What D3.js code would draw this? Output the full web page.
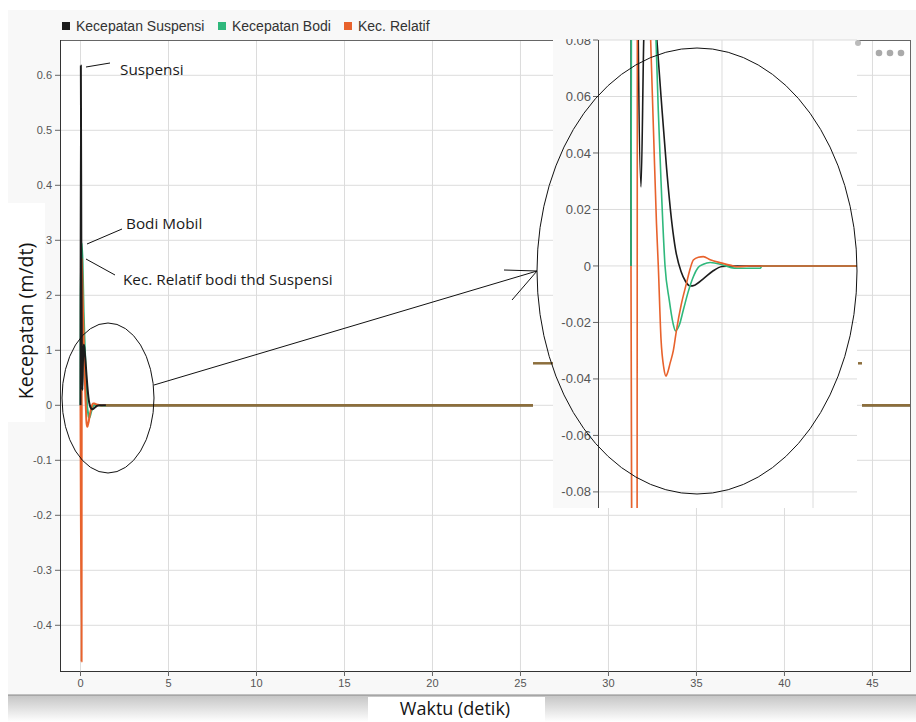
<!DOCTYPE html>
<html><head><meta charset="utf-8">
<script src="https://cdn.jsdelivr.net/npm/d3@7"></script>
<style>body{margin:0;background:#fff}svg{display:block}</style>
</head><body>
<svg id="c" width="916" height="722"></svg>
<script>
// ---------------- data ----------------
const seriesNames  = ["Kecepatan Suspensi", "Kecepatan Bodi", "Kec. Relatif"];
const seriesColors = ["#1c1c1c", "#2fb87c", "#e8622c"];
const settledColor = "#8c6e3c";

const tSuspensi = [0, 0.02, 0.05, 0.08, 0.11, 0.14, 0.18, 0.22, 0.26, 0.28, 0.33, 0.39, 0.45, 0.49, 0.55, 0.60, 0.65, 0.70, 0.80, 0.90, 1.00, 1.10, 47.2];
const vSuspensi = [0, 0.618, 0.25, 0.08, 0.028, 0.08, 0.11, 0.105, 0.09, 0.082, 0.06, 0.035, 0.015, 0.0057, -0.002, -0.0055, -0.0071, -0.0068, -0.0044, -0.0018, -0.0002, 0, 0];

const tBodi = [0, 0.01, 0.07, 0.12, 0.18, 0.24, 0.275, 0.30, 0.33, 0.374, 0.42, 0.46, 0.49, 0.53, 0.575, 0.63, 0.685, 0.74, 0.795, 0.87, 1.0, 1.1, 1.17, 1.42, 1.44, 47.2];
const vBodi = [0, 0.2, 0.295, 0.26, 0.17, 0.11, 0.08, 0.055, 0.03, 0, -0.012, -0.02, -0.023, -0.021, -0.0156, -0.009, -0.0038, -0.0005, 0.0006, 0.0012, 0.0004, -0.0006, -0.0008, -0.0008, 0, 0];

const tRelatif = [0, 0.062, 0.072, 0.12, 0.18, 0.216, 0.25, 0.28, 0.30, 0.33, 0.36, 0.385, 0.40, 0.43, 0.465, 0.50, 0.55, 0.61, 0.65, 0.685, 0.74, 0.795, 0.87, 1.0, 1.1, 1.17, 1.3, 47.2];
const vRelatif = [0, -0.466, 0.267, 0.2, 0.12, 0.08, 0.045, 0.015, 0, -0.026, -0.036, -0.039, -0.038, -0.0344, -0.03, -0.0227, -0.014, -0.0061, -0.001, 0.0021, 0.0031, 0.0033, 0.0022, 0.001, 0.0002, -0.0003, 0, 0];

const xTicks = [0, 5, 10, 15, 20, 25, 30, 35, 40, 45];
const yTicks = [0.6, 0.5, 0.4, 0.3, 0.2, 0.1, 0, -0.1, -0.2, -0.3, -0.4];
const insetYTicks = [0.08, 0.06, 0.04, 0.02, 0, -0.02, -0.04, -0.06, -0.08];
const insetXGrid = [0, 1, 2];

const annotations = ["Suspensi", "Bodi Mobil", "Kec. Relatif bodi thd Suspensi"];
const yTitle = "Kecepatan (m/dt)";
const xTitle = "Waktu (detik)";

// ---------------- setup ----------------
const series = [
  {name: seriesNames[0], color: seriesColors[0], pts: tSuspensi.map((t, i) => [t, vSuspensi[i]])},
  {name: seriesNames[1], color: seriesColors[1], pts: tBodi.map((t, i) => [t, vBodi[i]])},
  {name: seriesNames[2], color: seriesColors[2], pts: tRelatif.map((t, i) => [t, vRelatif[i]])}
];
// time from which all series stay at zero
const tSettle = d3.max(series, s => {
  let k = s.pts.length - 1;
  while (k > 0 && s.pts[k - 1][1] === 0) k--;
  return s.pts[k][0];
});
const tEnd = d3.max(series, s => s.pts[s.pts.length - 1][0]);
const settled = [[tSettle, 0], [tEnd, 0]];

const svg = d3.select("#c");
const defs = svg.append("defs");

const M = {left: 60, right: 911, top: 40, bottom: 671};
const x = d3.scaleLinear().domain([-1.165, 47.19]).range([M.left, M.right]);
const y = d3.scaleLinear().domain([-0.4831, 0.6642]).range([M.bottom, M.top]);

const I = {left: 598, right: 857, top: 40, bottom: 508};
const xi = d3.scaleLinear().domain([-0.3626, 2.4835]).range([I.left, I.right]);
const yi = d3.scaleLinear().domain([-0.0857, 0.08]).range([I.bottom, I.top]);

// card background + shadow
const grad = defs.append("linearGradient").attr("id", "sh").attr("x1", 0).attr("y1", 0).attr("x2", 0).attr("y2", 1);
grad.append("stop").attr("offset", 0).attr("stop-color", "#c4c4c4");
grad.append("stop").attr("offset", 1).attr("stop-color", "#ffffff");
svg.append("rect").attr("x", 8).attr("y", 695).attr("width", 908).attr("height", 27).attr("fill", "url(#sh)");
svg.append("rect").attr("x", 8).attr("y", 10).attr("width", 908).attr("height", 685).attr("fill", "#f8f8f8");
svg.append("line").attr("x1", 8).attr("x2", 916).attr("y1", 695).attr("y2", 695).attr("stroke", "#888");

// main plot
svg.append("rect").attr("x", M.left).attr("y", M.top).attr("width", M.right - M.left).attr("height", M.bottom - M.top).attr("fill", "#fff");
const grid = svg.append("g").attr("stroke", "#dcdcdc").attr("stroke-width", 1);
grid.selectAll(".gx").data(xTicks).join("line").attr("x1", d => x(d)).attr("x2", d => x(d)).attr("y1", M.top).attr("y2", M.bottom);
grid.selectAll(".gy").data(yTicks).join("line").attr("y1", d => y(d)).attr("y2", d => y(d)).attr("x1", M.left).attr("x2", M.right);

// clip main series (hidden behind pasted zoom image)
const cp = defs.append("clipPath").attr("id", "mainClip");
cp.append("rect").attr("x", M.left).attr("y", M.top).attr("width", 533 - M.left).attr("height", M.bottom - M.top);
cp.append("rect").attr("x", 862).attr("y", M.top).attr("width", M.right - 862).attr("height", M.bottom - M.top);

const lineMain = d3.line().x(d => x(d[0])).y(d => y(d[1])).curve(d3.curveMonotoneX);
const gMain = svg.append("g").attr("clip-path", "url(#mainClip)");
[1, 2, 0].forEach(k => {
  gMain.append("path").attr("d", lineMain(series[k].pts)).attr("fill", "none")
    .attr("stroke", series[k].color).attr("stroke-width", 2).attr("stroke-linejoin", "round");
});
gMain.append("path").attr("d", lineMain(settled)).attr("fill", "none").attr("stroke", settledColor).attr("stroke-width", 2.5);

// axes frame
svg.append("line").attr("x1", M.left).attr("x2", M.right).attr("y1", M.top + 0.5).attr("y2", M.top + 0.5).attr("stroke", "#666");
svg.append("line").attr("x1", M.right - 0.5).attr("x2", M.right - 0.5).attr("y1", M.top).attr("y2", M.bottom).attr("stroke", "#666");
svg.append("line").attr("x1", M.left + 0.5).attr("x2", M.left + 0.5).attr("y1", M.top).attr("y2", M.bottom).attr("stroke", "#333");
svg.append("line").attr("x1", M.left).attr("x2", M.right).attr("y1", M.bottom + 0.5).attr("y2", M.bottom + 0.5).attr("stroke", "#333");

const fmt = d => String(d);
const ax = svg.append("g").attr("font-family", "Liberation Sans, Arial, sans-serif").attr("font-size", 11).attr("fill", "#555");
ax.selectAll(".tx").data(xTicks).join("line").attr("x1", d => x(d)).attr("x2", d => x(d)).attr("y1", M.bottom).attr("y2", M.bottom + 5).attr("stroke", "#666");
ax.selectAll(".lx").data(xTicks).join("text").attr("x", d => x(d)).attr("y", M.bottom + 16).attr("text-anchor", "middle").text(fmt);
ax.selectAll(".ty").data(yTicks).join("line").attr("x1", M.left - 5).attr("x2", M.left).attr("y1", d => y(d)).attr("y2", d => y(d)).attr("stroke", "#666");
ax.selectAll(".ly").data(yTicks).join("text").attr("x", M.left - 8).attr("y", d => y(d)).attr("dy", "0.35em").attr("text-anchor", "end").text(fmt);

// legend
const lg = svg.append("g").attr("font-family", "Liberation Sans, Arial, sans-serif").attr("font-size", 14).attr("fill", "#333");
const legX = [62, 218, 344];
series.forEach((s, k) => {
  lg.append("rect").attr("x", legX[k]).attr("y", 22).attr("width", 8).attr("height", 8).attr("fill", s.color);
  lg.append("text").attr("x", legX[k] + 14).attr("y", 30.5).text(s.name);
});

// annotations
const an = svg.append("g").attr("font-family", "Open Sans, sans-serif").attr("font-size", 15.3).attr("fill", "#1a1a1a");
const annPos = [[120, 75], [126, 229], [123, 285]];
annotations.forEach((t, k) => an.append("text").attr("x", annPos[k][0]).attr("y", annPos[k][1]).text(t));
const leaders = [[[86, 67], [110, 63]], [[87, 244], [122, 229]], [[86, 259], [115, 275]]];
svg.append("g").attr("stroke", "#111").attr("stroke-width", 1).selectAll("line").data(leaders).join("line")
  .attr("x1", d => d[0][0]).attr("y1", d => d[0][1]).attr("x2", d => d[1][0]).attr("y2", d => d[1][1]);

// small ellipse + arrow
svg.append("ellipse").attr("cx", 108).attr("cy", 398).attr("rx", 46).attr("ry", 75).attr("fill", "none").attr("stroke", "#111").attr("stroke-width", 1);
const arr = svg.append("g").attr("stroke", "#111").attr("stroke-width", 1);
arr.append("line").attr("x1", 154).attr("y1", 385).attr("x2", 537).attr("y2", 271);
arr.append("line").attr("x1", 504).attr("y1", 270).attr("x2", 537).attr("y2", 271);
arr.append("line").attr("x1", 512).attr("y1", 300).attr("x2", 537).attr("y2", 271);

// y title with white box
svg.append("rect").attr("x", 8).attr("y", 203).attr("width", 37).attr("height", 219).attr("fill", "#fff");
svg.append("text").attr("transform", "translate(33,321) rotate(-90)").attr("text-anchor", "middle")
  .attr("font-family", "Open Sans, sans-serif").attr("font-size", 19.5).attr("fill", "#141414").text(yTitle);

// ---------------- inset (zoomed view) ----------------
const ic = defs.append("clipPath").attr("id", "insetClip");
ic.append("rect").attr("x", 553).attr("y", 39).attr("width", I.right - 553).attr("height", I.bottom - 39);
const gI = svg.append("g").attr("clip-path", "url(#insetClip)");
gI.append("rect").attr("x", 553).attr("y", 30).attr("width", I.left - 553).attr("height", I.bottom - 30).attr("fill", "#f9f9f9");
gI.append("rect").attr("x", I.left).attr("y", I.top).attr("width", I.right - I.left).attr("height", I.bottom - I.top).attr("fill", "#fff");
gI.selectAll(".ig").data(insetYTicks).join("line").attr("x1", I.left).attr("x2", I.right).attr("y1", d => yi(d)).attr("y2", d => yi(d)).attr("stroke", "#dcdcdc");
gI.selectAll(".igx").data(insetXGrid).join("line").attr("x1", d => xi(d)).attr("x2", d => xi(d)).attr("y1", I.top).attr("y2", I.bottom).attr("stroke", "#dcdcdc");
gI.selectAll(".it").data(insetYTicks).join("line").attr("x1", I.left - 5).attr("x2", I.left).attr("y1", d => yi(d)).attr("y2", d => yi(d)).attr("stroke", "#666");
gI.selectAll(".il").data(insetYTicks).join("text").attr("x", I.left - 7).attr("y", d => yi(d)).attr("dy", "0.35em")
  .attr("text-anchor", "end").attr("font-family", "Liberation Sans, Arial, sans-serif").attr("font-size", 13).attr("fill", "#555").text(fmt);

const ipc = defs.append("clipPath").attr("id", "insetPlot");
ipc.append("rect").attr("x", I.left).attr("y", I.top).attr("width", I.right - I.left).attr("height", I.bottom - I.top);
const lineI = d3.line().x(d => xi(d[0])).y(d => yi(d[1])).curve(d3.curveMonotoneX);
const gIL = svg.append("g").attr("clip-path", "url(#insetPlot)");
[0, 1, 2].forEach(k => {
  gIL.append("path").attr("d", lineI(series[k].pts)).attr("fill", "none")
    .attr("stroke", series[k].color).attr("stroke-width", 1.6).attr("stroke-linejoin", "round");
});
svg.append("line").attr("x1", I.left + 0.5).attr("x2", I.left + 0.5).attr("y1", I.top).attr("y2", I.bottom).attr("stroke", "#444");

// stray pieces of the pasted image
const stubY = y(0) - 42;
svg.append("line").attr("x1", 533).attr("x2", 553).attr("y1", stubY).attr("y2", stubY).attr("stroke", settledColor).attr("stroke-width", 2.5);
svg.append("line").attr("x1", 858).attr("x2", 862).attr("y1", stubY).attr("y2", stubY).attr("stroke", settledColor).attr("stroke-width", 2.5);
svg.append("circle").attr("cx", 858).attr("cy", 43).attr("r", 3).attr("fill", "#bbb");
svg.selectAll(".dot").data([879, 890, 901]).join("circle").attr("cx", d => d).attr("cy", 53).attr("r", 3.3).attr("fill", "#aaa");

// big ellipse
svg.append("ellipse").attr("cx", 697).attr("cy", 271).attr("rx", 160).attr("ry", 223).attr("fill", "none").attr("stroke", "#111").attr("stroke-width", 1);

// x title with white box
svg.append("rect").attr("x", 368).attr("y", 697).attr("width", 177).attr("height", 25).attr("fill", "#fff");
svg.append("text").attr("x", 455).attr("y", 715).attr("text-anchor", "middle")
  .attr("font-family", "Open Sans, sans-serif").attr("font-size", 18).attr("fill", "#141414").text(xTitle);
</script>
</body></html>
